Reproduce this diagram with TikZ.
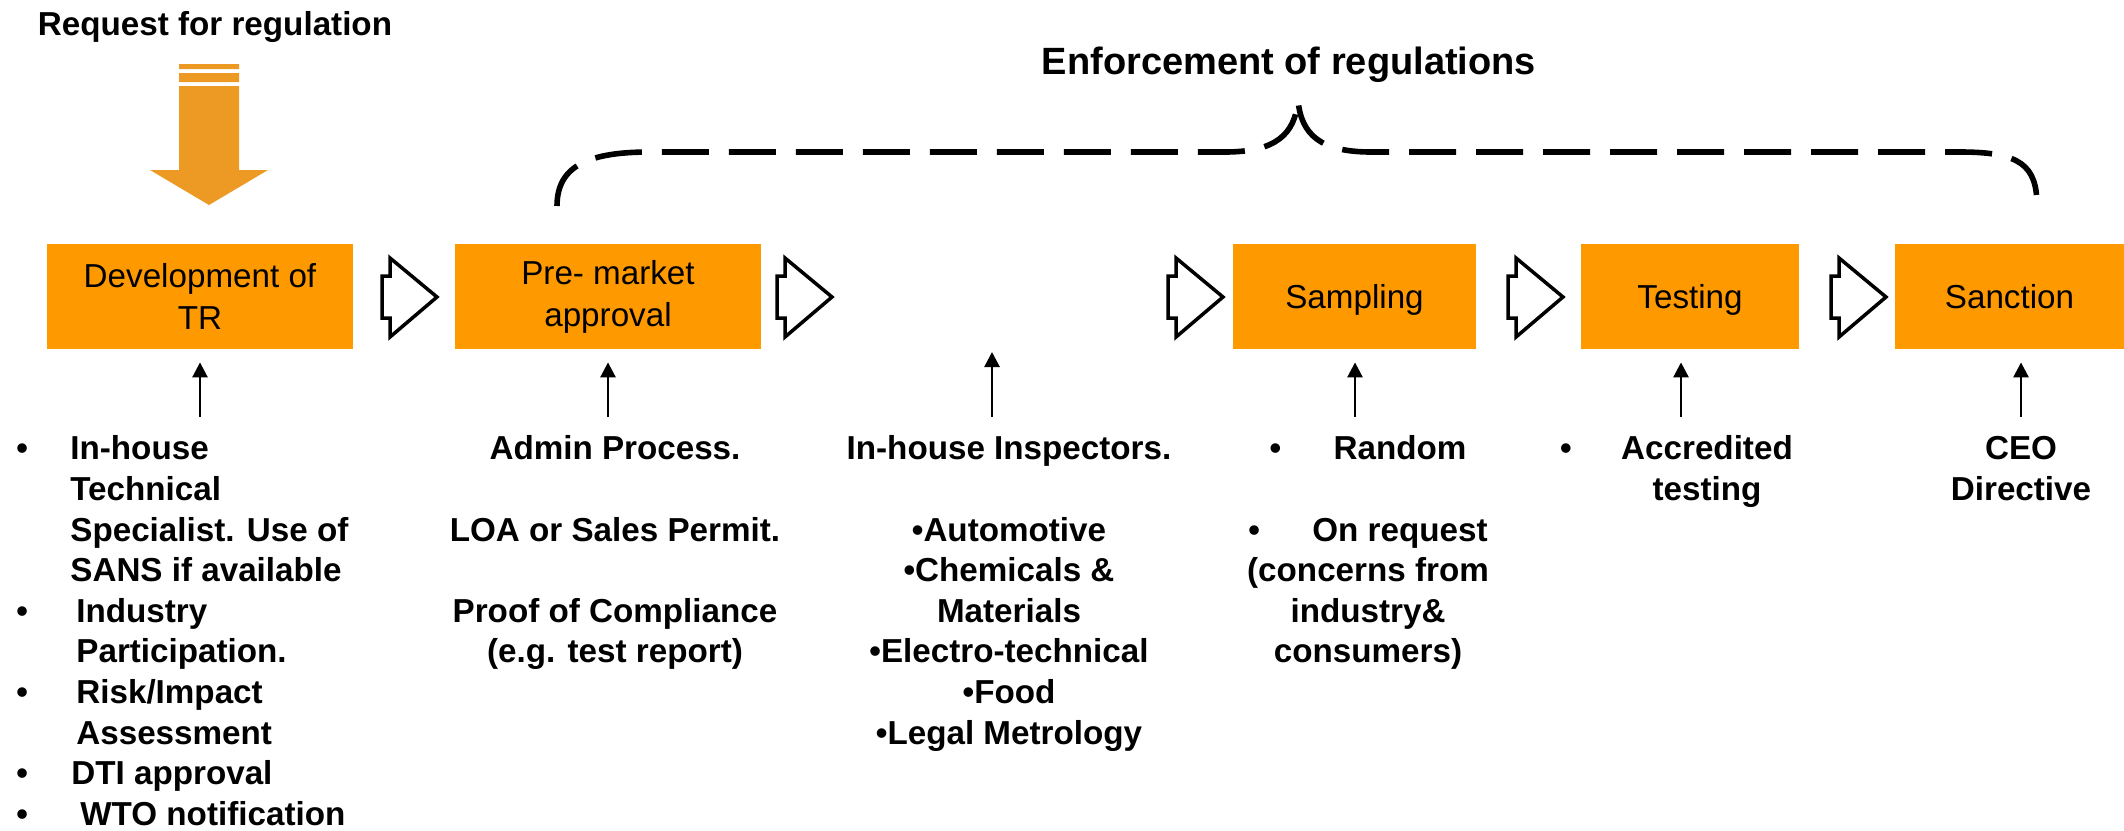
\documentclass[tikz,border=0pt]{standalone}
\usepackage{fontspec}
\setmainfont{Liberation Sans}
\usetikzlibrary{arrows.meta}
\definecolor{stageorange}{RGB}{255,153,0}
\definecolor{requestorange}{RGB}{236,154,36}
\newcommand{\bul}{\makebox[27pt][l]{•}}
\newcommand{\ind}{\hspace*{27pt}}
\newcommand{\sbul}{\makebox[32pt][l]{•}}
\tikzset{
  stage/.style={fill=stageorange, minimum height=52.5pt, inner sep=0pt, align=center, font=\fontsize{16.6}{21}\selectfont},
  note/.style={inner sep=0pt, anchor=north, font=\bfseries\fontsize{16.6}{20.3}\selectfont},
  blockarr/.style={line width=1.75pt, miter limit=10},
  uparr/.style={line width=1.35pt, -{Triangle[length=7.5pt,width=7.5pt]}},
  brace/.style={line width=2.8pt, dash pattern=on 23.5pt off 10pt}
}
\begin{document}
\begin{tikzpicture}[x=0.5pt, y=-0.5pt]
            \useasboundingbox (0,0) rectangle (2124,830);
            % Request
            \node[font=\bfseries\fontsize{16.6}{20}\selectfont, anchor=base] (req) at (215,35) {Request for regulation};
            \fill[requestorange] (179,64) rectangle (239,69) (179,73) rectangle (239,82);
            \fill[requestorange] (179,86) -- (239,86) -- (239,170) -- (268,170) -- (209,205) -- (150,170) -- (179,170) -- cycle;
            % Enforcement
            \node[font=\bfseries\fontsize{19}{23}\selectfont, anchor=base] (enf) at (1289,74) {Enforcement of regulations};
            \draw[brace] (557,206) .. controls (557,165) and (590,152) .. (650,152) -- (1225,152)
                .. controls (1275,152) and (1295,135) .. (1298,100)
                .. controls (1301,135) and (1321,152) .. (1371,152) -- (1960,152)
                .. controls (2020,152) and (2037,165) .. (2037,206);
            % Stages
            \node[stage, minimum width=153pt] (dev) at (200,296.5) {Development of\\TR};
            \node[stage, minimum width=153pt] (pma) at (608,296.5) {Pre- market\\approval};
            \node[stage, minimum width=121.5pt, text depth=0pt] (samp) at (1354.5,296.5) {Sampling};
            \node[stage, minimum width=109pt, text depth=0pt] (test) at (1690,296.5) {Testing};
            \node[stage, minimum width=114.5pt, text depth=0pt] (sanc) at (2009.5,296.5) {Sanction};
            \foreach \x in {382,777,1168,1508,1831}
                \draw[blockarr] (\x+8,258) -- (\x+55,297) -- (\x+8,337) -- (\x+8,318) -- (\x,318) -- (\x,276) -- (\x+8,276) -- cycle;
            % Inputs
            \coordinate (u1) at (200,417);
            \coordinate (u2) at (608,417);
            \coordinate (u3) at (992,417);
            \coordinate (u4) at (1355,417);
            \coordinate (u5) at (1681,417);
            \coordinate (u6) at (2021,417);
            \draw[uparr, shorten >=6.5pt] (u1) -- (u1 |- dev.south);
            \draw[uparr, shorten >=6.5pt] (u2) -- (u2 |- pma.south);
            \draw[uparr] (u3) -- ++(0,-65);
            \draw[uparr, shorten >=6.5pt] (u4) -- (u4 |- samp.south);
            \draw[uparr, shorten >=6.5pt] (u5) -- (u5 |- test.south);
            \draw[uparr, shorten >=6.5pt] (u6) -- (u6 |- sanc.south);
            % Notes
            \node[note, anchor=north west, align=left] (devnote) at (16,431) {\strut\bul In-house\\
                \ind Technical\\
                \ind Specialist. Use of\\
                \ind SANS if available\\
                \bul\hspace*{3pt}Industry\\
                \ind\hspace*{3pt}Participation.\\
                \bul\hspace*{3pt}Risk/Impact\\
                \ind\hspace*{3pt}Assessment\\
                \bul\hspace*{0.5pt}DTI approval\\
                \bul\hspace*{5pt}WTO notification};
            \node[note, align=center] (pmanote) at (615,431) {\strut Admin Process.\\\strut\\LOA or Sales Permit.\\\strut\\Proof of Compliance\\(e.g. test report)};
            \node[note, align=center] (insp) at (1009,431) {\strut In-house Inspectors.\\\strut\\•Automotive\\•Chemicals \&\\Materials\\•Electro-technical\\•Food\\•Legal Metrology};
            \node[note, align=center] (sampnote) at (1368,431) {\strut\sbul Random\\\strut\\\sbul On request\\(concerns from\\industry\&\\consumers)};
            \node[note, align=center] (testnote) at (1707,431) {\strut\llap{\makebox[30.5pt][l]{•}}Accredited\\testing};
            \node[note, align=center] (sancnote) at (2021,431) {\strut CEO\\Directive};
        \end{tikzpicture}
\end{document}
